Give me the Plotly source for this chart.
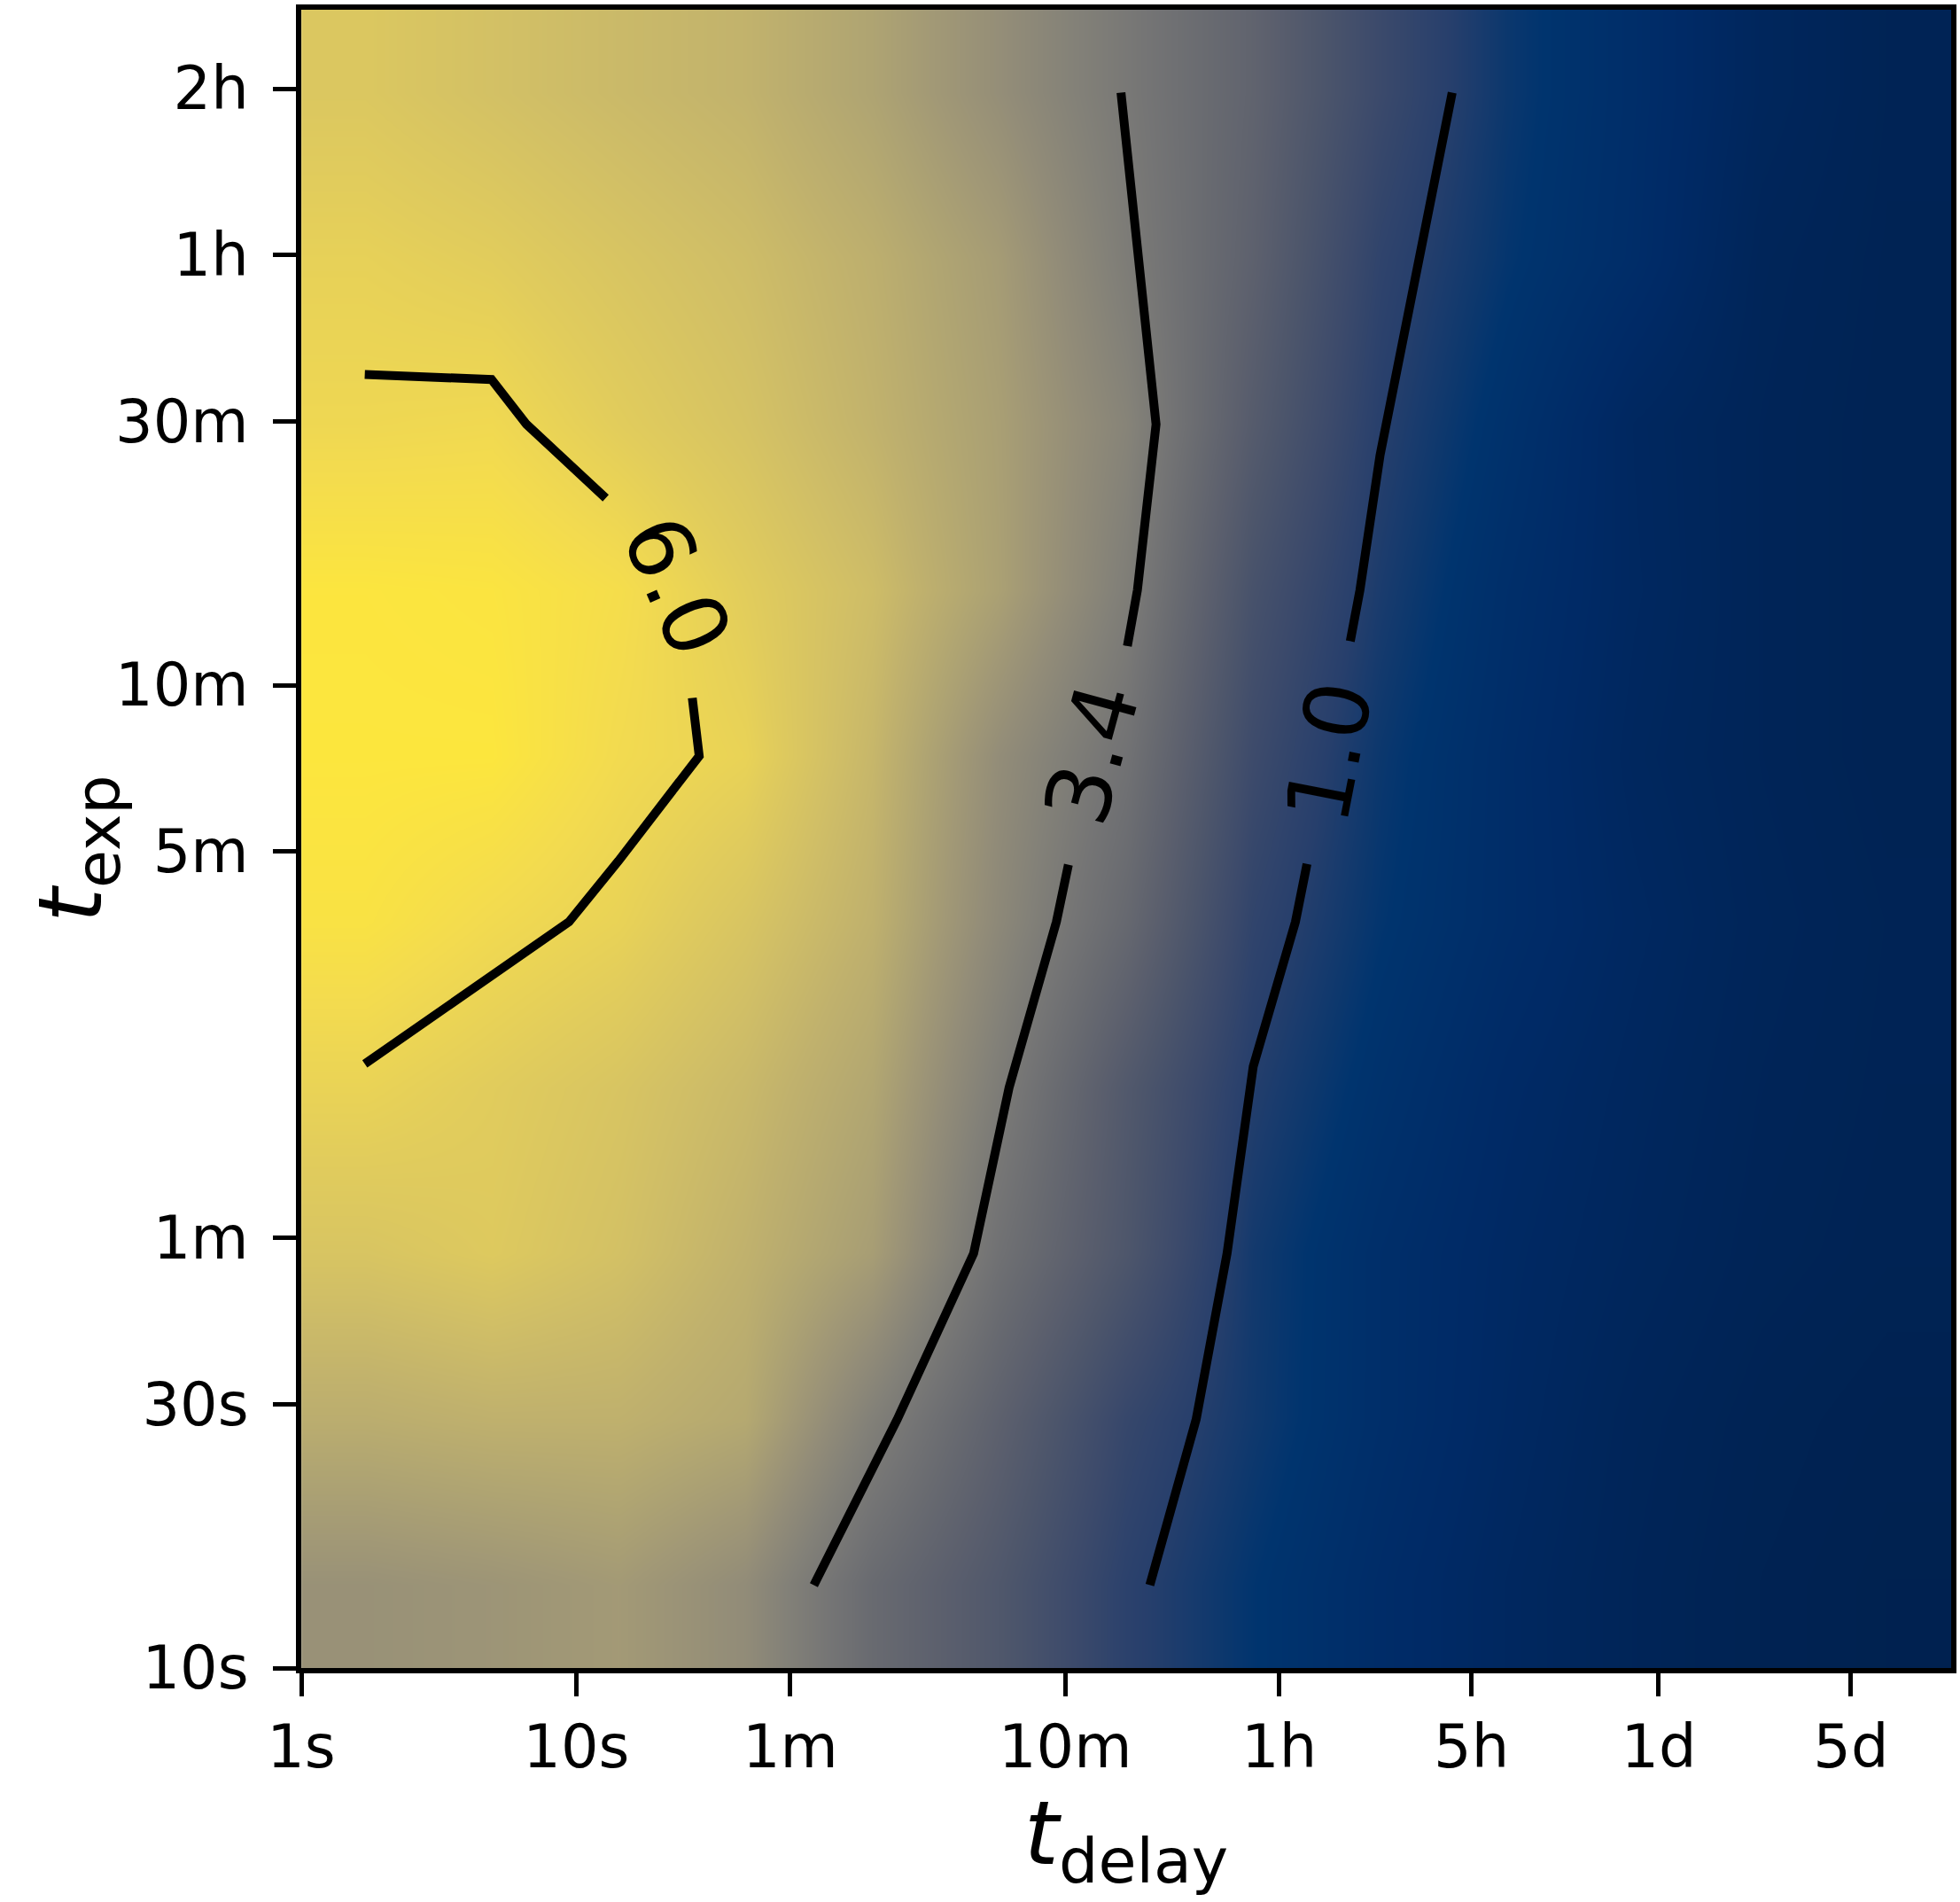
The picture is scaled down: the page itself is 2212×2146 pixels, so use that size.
import math
import numpy as np
import plotly.graph_objects as go

# Grid centres (log10 of seconds)
log_delay = [0.231, 0.692, 1.154, 1.615, 2.077, 2.538, 3.000, 3.462, 3.923, 4.385, 4.846, 5.308, 5.769]
log_exp = [1.15, 1.45, 1.75, 2.05, 2.35, 2.65, 2.95, 3.25, 3.55, 3.85]

# Values on the grid, one list per exposure row (shortest exposure first)
row_00 = [4.20, 4.30, 4.45, 4.02, 2.87, 2.10, 1.118, 0.484, -0.05, -0.45, -0.75, -0.95, -1.05]
row_01 = [5.00, 5.10, 5.10, 4.87, 3.62, 2.50, 1.38, 0.69, 0.10, -0.35, -0.70, -0.90, -1.00]
row_02 = [5.60, 5.72, 5.50, 5.12, 4.55, 3.11, 2.04, 0.73, 0.10, -0.30, -0.57, -0.80, -0.90]
row_03 = [5.95, 5.79, 5.60, 5.30, 4.80, 3.505, 2.159, 0.964, 0.30, -0.20, -0.50, -0.75, -0.87]
row_04 = [6.30, 6.10, 5.936, 5.60, 5.10, 3.90, 2.79, 1.247, 0.505, 0.00, -0.40, -0.70, -0.85]
row_05 = [6.40, 6.40, 6.11, 5.937, 5.25, 4.054, 3.152, 1.55, 0.624, 0.00, -0.50, -0.75, -0.90]
row_06 = [6.38, 6.35, 6.182, 5.803, 5.40, 4.64, 3.55, 1.85, 0.84, 0.10, -0.42, -0.75, -0.90]
row_07 = [6.043, 6.074, 5.805, 5.55, 5.15, 4.60, 3.75, 2.26, 1.037, 0.282, -0.45, -0.75, -0.90]
row_08 = [5.90, 5.80, 5.60, 5.40, 5.05, 4.50, 3.50, 2.50, 1.22, 0.52, 0.00, -0.70, -0.88]
row_09 = [5.67, 5.50, 5.32, 5.15, 4.73, 4.10, 3.37, 2.60, 1.50, 0.62, 0.05, -0.57, -0.85]
grid = [row_00, row_01, row_02, row_03, row_04, row_05, row_06, row_07, row_08, row_09]

levels = [1.0, 3.4, 6.0]
# exposure (log10 s) at which each contour carries its inline label
label_at = {1.0: 2.656, 3.4: 2.654, 6.0: 2.957}

delay_tick_log = [0.0, 1.0, 1.7782, 2.7782, 3.5563, 4.2553, 4.9365, 5.6355]
delay_tick_text = ["1s", "10s", "1m", "10m", "1h", "5h", "1d", "5d"]

exp_tick_log = [1.0, 1.4771, 1.7782, 2.4771, 2.7782, 3.2553, 3.5563, 3.8573]
exp_tick_text = ["10s", "30s", "1m", "5m", "10m", "30m", "1h", "2h"]

X_RANGE = (0.0, 6.0)
Y_RANGE = (1.0, 4.0)

W, H = 2212, 2146
MARGIN = dict(l=340, r=4, t=11, b=264)
PLOT_W = W - MARGIN["l"] - MARGIN["r"]
PLOT_H = H - MARGIN["t"] - MARGIN["b"]
PX_X = PLOT_W / (X_RANGE[1] - X_RANGE[0])
PX_Y = PLOT_H / (Y_RANGE[1] - Y_RANGE[0])

FONT = "DejaVu Sans"
LABEL_SIZE = 100
LABEL_GAP = 128  # half-length of the break in a contour line, px
LINE_W = 10

# cividis colours; positions warped with a power norm
cividis = [
    (0, 32, 76), (0, 42, 102), (0, 52, 110), (39, 63, 108), (60, 74, 107), (76, 85, 107),
    (91, 95, 109), (104, 106, 112), (117, 117, 117), (131, 129, 120), (146, 140, 120),
    (161, 152, 118), (176, 165, 114), (192, 177, 109), (209, 191, 102), (225, 204, 92),
    (243, 219, 79), (254, 232, 58),
]
gamma = 1.4
n = len(cividis) - 1
colorscale = [[(k / n) ** (1.0 / gamma), "rgb(%d,%d,%d)" % c] for k, c in enumerate(cividis)]
zmin, zmax = -1.2, 6.45


def contour_paths(level):
    """Marching squares on the rectilinear grid; returns polylines in data units."""
    Z = np.asarray(grid, float)
    xs = np.asarray(log_delay)
    ys = np.asarray(log_exp)
    ny, nx = Z.shape

    def crosses(a, b):
        return (a - level) * (b - level) < 0

    def point(edge):
        kind, i, j = edge
        if kind == "h":
            za, zb = Z[j, i], Z[j, i + 1]
            t = (level - za) / (zb - za)
            return (xs[i] + t * (xs[i + 1] - xs[i]), ys[j])
        za, zb = Z[j, i], Z[j + 1, i]
        t = (level - za) / (zb - za)
        return (xs[i], ys[j] + t * (ys[j + 1] - ys[j]))

    adj = {}
    for j in range(ny - 1):
        for i in range(nx - 1):
            edges = []
            if crosses(Z[j, i], Z[j, i + 1]):
                edges.append(("h", i, j))
            if crosses(Z[j, i + 1], Z[j + 1, i + 1]):
                edges.append(("v", i + 1, j))
            if crosses(Z[j + 1, i], Z[j + 1, i + 1]):
                edges.append(("h", i, j + 1))
            if crosses(Z[j, i], Z[j + 1, i]):
                edges.append(("v", i, j))
            pairs = []
            if len(edges) == 2:
                pairs = [(edges[0], edges[1])]
            elif len(edges) == 4:
                centre = Z[j:j + 2, i:i + 2].mean()
                if (centre - level) * (Z[j, i] - level) > 0:
                    pairs = [(edges[0], edges[1]), (edges[2], edges[3])]
                else:
                    pairs = [(edges[0], edges[3]), (edges[1], edges[2])]
            for a, b in pairs:
                adj.setdefault(a, []).append(b)
                adj.setdefault(b, []).append(a)

    paths, seen = [], set()
    starts = [e for e, nb in adj.items() if len(nb) == 1] + list(adj)
    for s in starts:
        if s in seen:
            continue
        chain, cur = [s], s
        seen.add(s)
        while True:
            nxt = [e for e in adj[cur] if e not in seen]
            if not nxt:
                break
            cur = nxt[0]
            seen.add(cur)
            chain.append(cur)
        paths.append([point(e) for e in chain])
    return paths


def to_px(p):
    return (p[0] * PX_X, -p[1] * PX_Y)


def to_data(q):
    return (q[0] / PX_X, -q[1] / PX_Y)


def split_for_label(path, y_label):
    """Cut a gap around the place where the path reaches y_label; return pieces and label pose."""
    P = [to_px(p) for p in path]
    s = [0.0]
    for a, b in zip(P[:-1], P[1:]):
        s.append(s[-1] + math.hypot(b[0] - a[0], b[1] - a[1]))

    def at(sv):
        for k in range(len(P) - 1):
            if s[k] <= sv <= s[k + 1]:
                t = 0 if s[k + 1] == s[k] else (sv - s[k]) / (s[k + 1] - s[k])
                return (P[k][0] + t * (P[k + 1][0] - P[k][0]), P[k][1] + t * (P[k + 1][1] - P[k][1]))
        return P[-1] if sv > s[-1] else P[0]

    s_c = None
    for k in range(len(path) - 1):
        y0, y1 = path[k][1], path[k + 1][1]
        if (y0 - y_label) * (y1 - y_label) <= 0 and y0 != y1:
            t = (y_label - y0) / (y1 - y0)
            s_c = s[k] + t * (s[k + 1] - s[k])
            break
    if s_c is None:
        return [path], None

    s_a, s_b = max(0.0, s_c - LABEL_GAP), min(s[-1], s_c + LABEL_GAP)
    first = [P[k] for k in range(len(P)) if s[k] < s_a] + [at(s_a)]
    second = [at(s_b)] + [P[k] for k in range(len(P)) if s[k] > s_b]
    pa, pb = at(s_a), at(s_b)
    ang = math.degrees(math.atan2(pb[1] - pa[1], pb[0] - pa[0]))
    if ang > 90:
        ang -= 180
    elif ang <= -90:
        ang += 180
    centre = to_data(at(s_c))
    pieces = [[to_data(q) for q in first], [to_data(q) for q in second]]
    return pieces, (centre, ang)


fig = go.Figure()
fig.add_trace(go.Heatmap(
    x=log_delay, y=log_exp, z=grid, zsmooth="best",
    colorscale=colorscale, zmin=zmin, zmax=zmax, showscale=False, hoverinfo="skip",
))

for lev in levels:
    for path in contour_paths(lev):
        pieces, pose = split_for_label(path, label_at[lev])
        for piece in pieces:
            if len(piece) < 2:
                continue
            fig.add_trace(go.Scatter(
                x=[p[0] for p in piece], y=[p[1] for p in piece], mode="lines",
                line=dict(color="black", width=LINE_W), hoverinfo="skip", showlegend=False,
            ))
        if pose is not None:
            (cx, cy), ang = pose
            fig.add_annotation(
                x=cx, y=cy, xref="x", yref="y", text="%.1f" % lev, showarrow=False,
                textangle=ang, xanchor="center", yanchor="middle",
                font=dict(family=FONT, size=LABEL_SIZE, color="black"),
            )

axis_common = dict(
    showgrid=False, zeroline=False, showline=True, linewidth=6, linecolor="black",
    mirror=True, ticks="outside", ticklen=26, tickwidth=4.5, tickcolor="black",
    tickfont=dict(family=FONT, size=67, color="black"),
)
fig.update_xaxes(
    range=list(X_RANGE), tickmode="array", tickvals=delay_tick_log, ticktext=delay_tick_text,
    title=dict(text="<i>t</i><sub>delay</sub>", font=dict(family=FONT, size=100, color="black"), standoff=20),
    **axis_common,
)
fig.update_yaxes(
    range=list(Y_RANGE), tickmode="array", tickvals=exp_tick_log, ticktext=exp_tick_text,
    ticklabelstandoff=14,
    **axis_common,
)
fig.add_annotation(
    x=-0.1362, y=0.494, xref="paper", yref="paper", text="<i>t</i><sub>exp</sub>",
    showarrow=False, textangle=-90, xanchor="center", yanchor="middle",
    font=dict(family=FONT, size=100, color="black"),
)
fig.update_layout(
    width=W, height=H, margin=MARGIN,
    paper_bgcolor="white", plot_bgcolor="white", showlegend=False,
)
fig.write_html("out.html")
